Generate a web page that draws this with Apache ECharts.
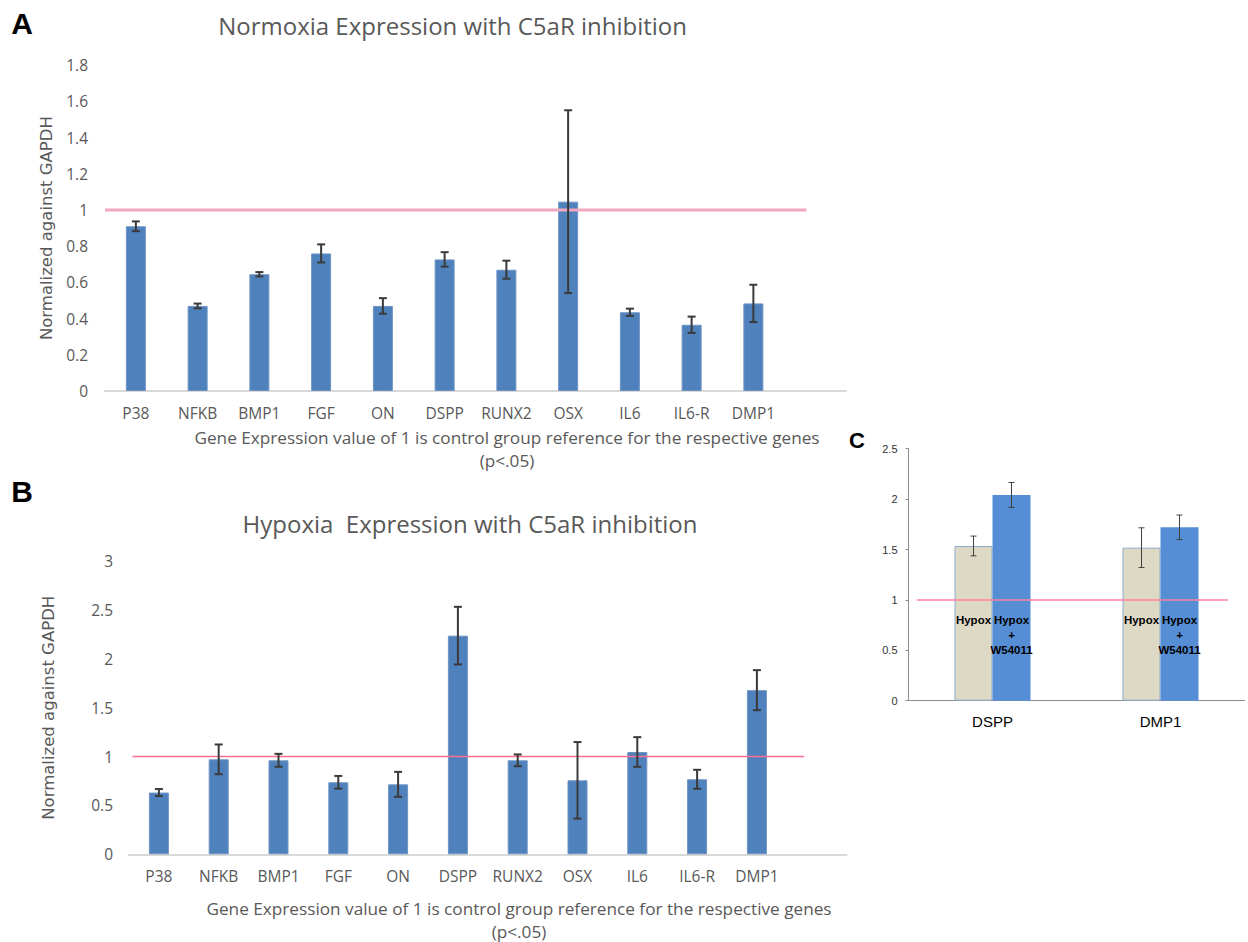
<!DOCTYPE html>
<html>
<head>
<meta charset="utf-8">
<style>
  html, body { margin: 0; padding: 0; background: #ffffff; }
  #chart { width: 1248px; height: 942px; }
</style>
<script src="https://cdn.jsdelivr.net/npm/echarts@6/dist/echarts.min.js"></script>
</head>
<body>
<div id="chart"></div>
<script>
// ---------- data ----------
const genes = ['P38', 'NFKB', 'BMP1', 'FGF', 'ON', 'DSPP', 'RUNX2', 'OSX', 'IL6', 'IL6-R', 'DMP1'];
const normoxia    = [0.91, 0.47, 0.645, 0.76, 0.47, 0.727, 0.67, 1.046, 0.435, 0.366, 0.484];
const normoxiaErr = [0.027, 0.013, 0.012, 0.05, 0.043, 0.04, 0.05, 0.505, 0.02, 0.045, 0.103];
const hypoxia     = [0.632, 0.972, 0.962, 0.737, 0.716, 2.238, 0.962, 0.757, 1.047, 0.768, 1.68];
const hypoxiaErr  = [0.036, 0.152, 0.066, 0.065, 0.128, 0.295, 0.06, 0.392, 0.152, 0.097, 0.205];

const cGenes    = ['DSPP', 'DMP1'];
const hypox     = [1.535, 1.518];
const hypoxErr  = [0.098, 0.197];
const hypoxW    = [2.041, 1.72];
const hypoxWErr = [0.124, 0.122];

const yTicksA = { min: 0, max: 1.8, interval: 0.2 };
const yTicksB = { min: 0, max: 3, interval: 0.5 };
const yTicksC = { min: 0, max: 2.5, interval: 0.5 };

// control reference lines (value 1), endpoints in category-band units
const refA = [[0, 1], [11.36, 1]];
const refB = [[0.06, 1], [11.29, 1]];
const refC = [[0.05, 1], [1.9, 1]];

const titleA = 'Normoxia Expression with C5aR inhibition';
const titleB = 'Hypoxia  Expression with C5aR inhibition';
const yName = 'Normalized against GAPDH';
const xNote1 = 'Gene Expression value of 1 is control group reference for the respective genes';
const xNote2 = '(p<.05)';

// ---------- helpers ----------
function errData(vals, errs) {
  return vals.map((v, i) => [i, v - errs[i], v + errs[i]]);
}
function errRender(capHalf, lw, color, offsetPx) {
  return function (params, api) {
    const x = api.value(0);
    const pLo = api.coord([x, api.value(1)]);
    const pHi = api.coord([x, api.value(2)]);
    const cx = pLo[0] + offsetPx;
    const st = { stroke: color, lineWidth: lw, fill: null };
    return {
      type: 'group',
      children: [
        { type: 'line', shape: { x1: cx, y1: pLo[1], x2: cx, y2: pHi[1] }, style: st },
        { type: 'line', shape: { x1: cx - capHalf, y1: pLo[1], x2: cx + capHalf, y2: pLo[1] }, style: st },
        { type: 'line', shape: { x1: cx - capHalf, y1: pHi[1], x2: cx + capHalf, y2: pHi[1] }, style: st }
      ]
    };
  };
}

const labelFont = '"Open Sans", sans-serif';
const grayText = '#595959';
const barBlue = '#4f81bd';

const chart = echarts.init(document.getElementById('chart'), null, { renderer: 'svg' });

const catAxisAB = (gridIndex) => ({
  type: 'category', gridIndex: gridIndex,
  data: genes.concat(['']),
  axisLine: { show: true, lineStyle: { color: '#d9d9d9', width: 2 } },
  axisTick: { show: false },
  axisLabel: { color: grayText, fontFamily: labelFont, fontSize: 15.5, margin: 14, interval: 0 }
});
const hiddenVal = (gridIndex, max) => ({
  type: 'value', gridIndex: gridIndex, min: 0, max: max, show: false
});
const textStyle = (font, fill) => ({
  font: font, fill: fill, align: 'center', verticalAlign: 'middle', textAlign: 'center', textVerticalAlign: 'middle'
});

const option = {
  backgroundColor: '#ffffff',
  animation: false,
  grid: [
    { left: 105, top: 65.2, width: 741, height: 325.8 },
    { left: 129, top: 561.2, width: 717.6, height: 293.1 },
    { left: 908.5, top: 448.7, width: 336, height: 252 }
  ],
  xAxis: [
    catAxisAB(0),
    catAxisAB(1),
    {
      type: 'category', gridIndex: 2, data: cGenes,
      axisLine: { show: true, lineStyle: { color: '#8c8c8c', width: 1 } },
      axisTick: { show: false },
      axisLabel: { color: '#000000', fontFamily: '"Liberation Sans", Arial, sans-serif', fontSize: 15, margin: 13 }
    },
    hiddenVal(0, 12),
    hiddenVal(1, 12),
    hiddenVal(2, 2)
  ],
  yAxis: [
    {
      type: 'value', gridIndex: 0, min: yTicksA.min, max: yTicksA.max, interval: yTicksA.interval,
      axisLine: { show: false }, axisTick: { show: false }, splitLine: { show: false },
      axisLabel: { color: grayText, fontFamily: labelFont, fontSize: 15.5, margin: 17 },
      name: yName, nameLocation: 'middle', nameGap: 48,
      nameTextStyle: { color: grayText, fontFamily: '"DejaVu Sans", sans-serif', fontSize: 16.5 }
    },
    {
      type: 'value', gridIndex: 1, min: yTicksB.min, max: yTicksB.max, interval: yTicksB.interval,
      axisLine: { show: false }, axisTick: { show: false }, splitLine: { show: false },
      axisLabel: { color: grayText, fontFamily: labelFont, fontSize: 15.5, margin: 16 },
      name: yName, nameLocation: 'middle', nameGap: 72,
      nameTextStyle: { color: grayText, fontFamily: '"DejaVu Sans", sans-serif', fontSize: 16.5 }
    },
    {
      type: 'value', gridIndex: 2, min: yTicksC.min, max: yTicksC.max, interval: yTicksC.interval,
      axisLine: { show: true, lineStyle: { color: '#8c8c8c', width: 1 } },
      axisTick: { show: true, length: 3, lineStyle: { color: '#8c8c8c' } },
      splitLine: { show: false },
      axisLabel: { color: '#333333', fontFamily: '"Liberation Sans", Arial, sans-serif', fontSize: 11, margin: 11 }
    }
  ],
  series: [
    // Panel A
    {
      type: 'bar', xAxisIndex: 0, yAxisIndex: 0, data: normoxia, barWidth: 20,
      itemStyle: { color: barBlue, borderColor: '#6f94c4', borderWidth: 1 }, z: 2
    },
    {
      type: 'line', xAxisIndex: 3, yAxisIndex: 0, data: refA, symbol: 'none',
      lineStyle: { color: '#f2a7bf', width: 3 }, z: 3, silent: true
    },
    {
      type: 'custom', xAxisIndex: 0, yAxisIndex: 0, data: errData(normoxia, normoxiaErr),
      renderItem: errRender(4, 2, '#3a3a3a', 0), z: 4
    },
    // Panel B
    {
      type: 'bar', xAxisIndex: 1, yAxisIndex: 1, data: hypoxia, barWidth: 20,
      itemStyle: { color: barBlue, borderColor: '#6f94c4', borderWidth: 1 }, z: 2
    },
    {
      type: 'line', xAxisIndex: 4, yAxisIndex: 1, data: refB, symbol: 'none',
      lineStyle: { color: '#ff6f91', width: 1.5 }, z: 3, silent: true
    },
    {
      type: 'custom', xAxisIndex: 1, yAxisIndex: 1, data: errData(hypoxia, hypoxiaErr),
      renderItem: errRender(4, 2, '#3a3a3a', 0), z: 4
    },
    // Panel C
    {
      type: 'bar', xAxisIndex: 2, yAxisIndex: 2, data: hypox, barWidth: 38, barGap: '0%',
      itemStyle: { color: '#ddd9c4', borderColor: '#8fa9cc', borderWidth: 1 }, z: 2,
      label: {
        show: true, position: 'insideBottom', distance: 73, formatter: 'Hypox',
        color: '#000000', fontFamily: '"Liberation Sans", Arial, sans-serif',
        fontSize: 11.5, fontWeight: 'bold', lineHeight: 15
      }
    },
    {
      type: 'bar', xAxisIndex: 2, yAxisIndex: 2, data: hypoxW, barWidth: 38, barGap: '0%',
      itemStyle: { color: '#558ed5' }, z: 2,
      label: {
        show: true, position: 'insideBottom', distance: 43, formatter: 'Hypox\n+\nW54011',
        color: '#000000', fontFamily: '"Liberation Sans", Arial, sans-serif',
        fontSize: 11.5, fontWeight: 'bold', lineHeight: 15, align: 'center'
      }
    },
    {
      type: 'line', xAxisIndex: 5, yAxisIndex: 2, data: refC, symbol: 'none',
      lineStyle: { color: '#ff7f9f', width: 1.5 }, z: 3, silent: true
    },
    {
      type: 'custom', xAxisIndex: 2, yAxisIndex: 2, data: errData(hypox, hypoxErr),
      renderItem: errRender(3, 1, '#404040', -19), z: 4
    },
    {
      type: 'custom', xAxisIndex: 2, yAxisIndex: 2, data: errData(hypoxW, hypoxWErr),
      renderItem: errRender(3, 1, '#404040', 19), z: 4
    }
  ],
  graphic: [
    { type: 'text', x: 22, y: 23, style: Object.assign({ text: 'A' }, textStyle('bold 30px "Liberation Sans", Arial, sans-serif', '#000')) },
    { type: 'text', x: 22, y: 491, style: Object.assign({ text: 'B' }, textStyle('bold 30px "Liberation Sans", Arial, sans-serif', '#000')) },
    { type: 'text', x: 857, y: 440, style: Object.assign({ text: 'C' }, textStyle('bold 22px "Liberation Sans", Arial, sans-serif', '#000')) },
    { type: 'text', x: 452.6, y: 25, style: Object.assign({ text: titleA }, textStyle('24px "Open Sans", sans-serif', grayText)) },
    { type: 'text', x: 470, y: 523, style: Object.assign({ text: titleB }, textStyle('24px "Open Sans", sans-serif', grayText)) },
    { type: 'text', x: 507, y: 437, style: Object.assign({ text: xNote1 }, textStyle('17.2px "Open Sans", sans-serif', grayText)) },
    { type: 'text', x: 507, y: 460, style: Object.assign({ text: xNote2 }, textStyle('17.2px "Open Sans", sans-serif', grayText)) },
    { type: 'text', x: 519, y: 908, style: Object.assign({ text: xNote1 }, textStyle('17.2px "Open Sans", sans-serif', grayText)) },
    { type: 'text', x: 519, y: 931, style: Object.assign({ text: xNote2 }, textStyle('17.2px "Open Sans", sans-serif', grayText)) }
  ]
};

chart.setOption(option);
</script>
</body>
</html>
